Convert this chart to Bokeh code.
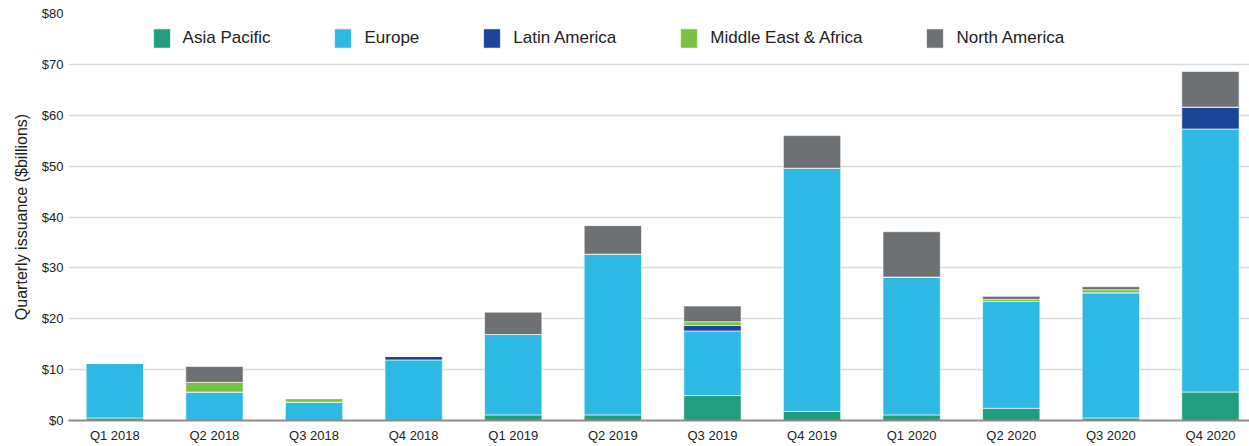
from bokeh.plotting import figure
from bokeh.models import (ColumnDataSource, Range1d, FixedTicker, PrintfTickFormatter,
                          Legend, LegendItem)
from bokeh.embed import file_html
from bokeh.resources import INLINE

quarters = ["Q1 2018", "Q2 2018", "Q3 2018", "Q4 2018",
            "Q1 2019", "Q2 2019", "Q3 2019", "Q4 2019",
            "Q1 2020", "Q2 2020", "Q3 2020", "Q4 2020"]
asia_pacific = [0.5, 0.0, 0.0, 0.0, 1.1, 1.1, 4.9, 1.8, 1.1, 2.4, 0.5, 5.6]
europe = [10.7, 5.6, 3.6, 11.9, 15.8, 31.6, 12.7, 47.8, 27.1, 21.0, 24.6, 51.7]
latin_america = [0.0, 0.0, 0.0, 0.7, 0.0, 0.0, 1.1, 0.0, 0.0, 0.0, 0.0, 4.3]
middle_east_africa = [0.0, 1.9, 0.7, 0.0, 0.0, 0.0, 0.7, 0.0, 0.0, 0.4, 0.6, 0.0]
north_america = [0.0, 3.1, 0.0, 0.0, 4.4, 5.6, 3.1, 6.4, 8.9, 0.6, 0.6, 7.0]

series = ["Asia Pacific", "Europe", "Latin America", "Middle East & Africa", "North America"]
colors = ["#219e7d", "#2eb8e4", "#1b4596", "#7ac043", "#6d7174"]
y_ticks = [0, 10, 20, 30, 40, 50, 60, 70, 80]

xpos = [i + 0.5 for i in range(len(quarters))]
source = ColumnDataSource(data={
    "x": xpos,
    "Asia Pacific": asia_pacific,
    "Europe": europe,
    "Latin America": latin_america,
    "Middle East & Africa": middle_east_africa,
    "North America": north_america,
})

FONT = "Liberation Sans"

p = figure(width=1249, height=446, output_backend="svg", toolbar_location=None,
           x_range=Range1d(0.035, 11.892), y_range=Range1d(0, 80),
           min_border_left=68, min_border_right=0, min_border_top=13, min_border_bottom=26)
p.outline_line_color = None
p.background_fill_color = "white"
p.border_fill_color = "white"

renderers = p.vbar_stack(series, x="x", width=0.575, source=source,
                         color=colors, line_color="#ffffff", line_width=0.6)

# Axes
p.xaxis.ticker = FixedTicker(ticks=xpos)
p.xaxis.major_label_overrides = {x: q for x, q in zip(xpos, quarters)}
p.xaxis.axis_line_color = "#8c8c8c"
p.xaxis.axis_line_width = 2
p.xaxis.major_tick_line_color = None
p.xaxis.major_tick_out = 0
p.xaxis.major_tick_in = 0
p.xaxis.minor_tick_line_color = None
p.xaxis.major_label_standoff = 7
p.xaxis.major_label_text_font = FONT
p.xaxis.major_label_text_font_size = "13px"
p.xaxis.major_label_text_color = "#222222"

p.yaxis.ticker = FixedTicker(ticks=y_ticks)
p.yaxis.formatter = PrintfTickFormatter(format="$%d")
p.yaxis.axis_line_color = None
p.yaxis.major_tick_line_color = None
p.yaxis.major_tick_out = 0
p.yaxis.major_tick_in = 0
p.yaxis.minor_tick_line_color = None
p.yaxis.major_label_standoff = 5
p.yaxis.major_label_text_font = FONT
p.yaxis.major_label_text_font_size = "13px"
p.yaxis.major_label_text_color = "#222222"
p.yaxis.axis_label = "Quarterly issuance ($billions)"
p.yaxis.axis_label_text_font = FONT
p.yaxis.axis_label_text_font_size = "16px"
p.yaxis.axis_label_text_font_style = "normal"
p.yaxis.axis_label_text_color = "#222222"
p.yaxis.axis_label_standoff = 9

p.xgrid.grid_line_color = None
p.ygrid.grid_line_color = "#d8dede"
p.ygrid.grid_line_width = 1.5

items = [LegendItem(label=s, renderers=[r]) for s, r in zip(series, renderers)]
legend = Legend(items=items, orientation="horizontal", location=(82.6, 370),
                padding=0, margin=0, spacing=62, label_standoff=11,
                glyph_width=21, glyph_height=24, label_height=24,
                label_text_font=FONT, label_text_font_size="17px",
                label_text_color="#222222",
                border_line_color=None, background_fill_alpha=0)
p.add_layout(legend, "center")

open("out.html", "w").write(file_html(p, INLINE))
